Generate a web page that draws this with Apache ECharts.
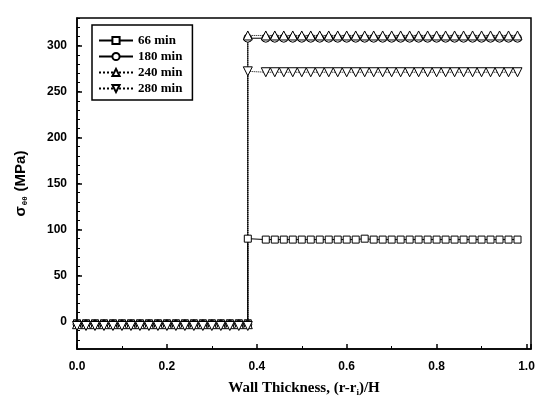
<!DOCTYPE html>
<html>
<head>
<meta charset="utf-8">
<script src="https://cdn.jsdelivr.net/npm/echarts@6/dist/echarts.min.js"></script>
<style>
  html, body { margin: 0; padding: 0; background: #fff; }
  #chart { width: 540px; height: 404px; }
</style>
</head>
<body>
<div id="chart"></div>
<script>
// x positions (wall thickness) of the markers, inner part and outer part
const xLow = [0.00, 0.02, 0.04, 0.06, 0.08, 0.10, 0.12, 0.14, 0.16, 0.18,
              0.20, 0.22, 0.24, 0.26, 0.28, 0.30, 0.32, 0.34, 0.36, 0.38]
const xHigh = [0.38, 0.42, 0.44, 0.46, 0.48, 0.50, 0.52, 0.54, 0.56, 0.58,
               0.60, 0.62, 0.64, 0.66, 0.68, 0.70, 0.72, 0.74, 0.76, 0.78,
               0.80, 0.82, 0.84, 0.86, 0.88, 0.90, 0.92, 0.94, 0.96, 0.98]

// y tick labels
const yTicks = [0, 50, 100, 150, 200, 250, 300]

// stress values (MPa)
const s66Low  = [-2, -2, -2, -2, -2, -2, -2, -2, -2, -2, -2, -2, -2, -2, -2, -2, -2, -2, -2, -2]
const s66High = [90, 89, 89, 89, 89, 89, 89, 89, 89, 89, 89, 89, 90, 89, 89, 89, 89, 89, 89, 89,
                 89, 89, 89, 89, 89, 89, 89, 89, 89, 89]
const s180Low  = [-3, -3, -3, -3, -3, -3, -3, -3, -3, -3, -3, -3, -3, -3, -3, -3, -3, -3, -3, -3]
const s180High = [308, 308, 308, 308, 308, 308, 308, 308, 308, 308, 308, 308, 308, 308, 308, 308,
                  308, 308, 308, 308, 308, 308, 308, 308, 308, 308, 308, 308, 308, 308]
const s240Low  = [-3, -3, -3, -3, -3, -3, -3, -3, -3, -3, -3, -3, -3, -3, -3, -3, -3, -3, -3, -3]
const s240High = [311, 311, 311, 311, 311, 311, 311, 311, 311, 311, 311, 311, 311, 311, 311, 311,
                  311, 311, 311, 311, 311, 311, 311, 311, 311, 311, 311, 311, 311, 311]
const s280Low  = [-5, -5, -5, -5, -5, -5, -5, -5, -5, -5, -5, -5, -5, -5, -5, -5, -5, -5, -5, -5]
const s280High = [272, 271, 271, 271, 271, 271, 271, 271, 271, 271, 271, 271, 271, 271, 271, 271,
                  271, 271, 271, 271, 271, 271, 271, 271, 271, 271, 271, 271, 271, 271]

const seriesNames = ['66 min', '180 min', '240 min', '280 min']

const toPoints = (low, high) => {
  const pts = xLow.map((x, i) => [x, low[i]])
  return pts.concat(xHigh.map((x, i) => [x, high[i]]))
}

const makeSeries = (name, low, high, symbol, size, lineType, rotate) => ({
  name,
  type: 'line',
  data: toPoints(low, high),
  symbol,
  symbolSize: size,
  symbolRotate: rotate || 0,
  showAllSymbol: true,
  itemStyle: { color: '#fff', borderColor: '#000', borderWidth: 1 },
  lineStyle: { color: '#000', width: 1, type: lineType }
})

const black = '#000'
const sansBold = { fontFamily: 'Liberation Sans', fontWeight: 'bold', fontSize: 12, color: black }

const chart = echarts.init(document.getElementById('chart'))

chart.setOption({
  animation: false,
  grid: {
    left: 77,
    right: 9,
    top: 18,
    bottom: 55,
    show: true,
    borderColor: black,
    borderWidth: 1.5,
    backgroundColor: 'transparent'
  },
  legend: {
    left: 92,
    top: 25,
    orient: 'vertical',
    data: seriesNames,
    itemWidth: 34,
    itemHeight: 9,
    itemGap: 3,
    padding: [9, 10, 5, 6],
    borderColor: black,
    borderWidth: 1.5,
    textStyle: {
      fontFamily: 'Liberation Serif',
      fontWeight: 'bold',
      fontSize: 13,
      color: black
    }
  },
  xAxis: {
    type: 'value',
    min: 0,
    max: 1.01,
    interval: 0.2,
    name: 'Wall Thickness, (r-r{sub|i})/H',
    nameLocation: 'middle',
    nameGap: 31,
    nameTextStyle: {
      fontFamily: 'Liberation Serif',
      fontWeight: 'bold',
      fontSize: 15,
      color: black,
      rich: {
        sub: { fontFamily: 'Liberation Serif', fontWeight: 'bold', fontSize: 9, padding: [8, 0, 0, 0] }
      }
    },
    axisLine: { onZero: false, lineStyle: { color: black, width: 1.5 } },
    axisTick: { inside: true, length: 5, lineStyle: { color: black, width: 1.5 } },
    minorTick: { show: true, splitNumber: 2, length: 3, lineStyle: { color: black } },
    splitLine: { show: false },
    axisLabel: Object.assign({
      showMaxLabel: false,
      margin: 12,
      formatter: (v) => v.toFixed(1)
    }, sansBold)
  },
  yAxis: [
    {
      type: 'value',
      min: -30,
      max: 330,
      name: 'σ{sub|θθ} (MPa)',
      nameLocation: 'middle',
      nameGap: 48,
      nameTextStyle: {
        fontFamily: 'Liberation Sans',
        fontWeight: 'bold',
        fontSize: 15,
        color: black,
        rich: {
          sub: { fontFamily: 'Liberation Sans', fontWeight: 'bold', fontSize: 8, padding: [9, 1, 0, 1] }
        }
      },
      axisLine: { onZero: false, lineStyle: { color: black, width: 1.5 } },
      axisTick: { inside: true, length: 5, customValues: yTicks, lineStyle: { color: black, width: 1.5 } },
      splitLine: { show: false },
      axisLabel: Object.assign({ margin: 10, customValues: yTicks }, sansBold)
    },
    {
      // minor ticks every 10 MPa
      type: 'value',
      position: 'left',
      min: -30,
      max: 330,
      interval: 10,
      axisLine: { show: false },
      axisTick: { inside: true, length: 3, lineStyle: { color: black, width: 1 } },
      splitLine: { show: false },
      axisLabel: { show: false }
    }
  ],
  series: [
    makeSeries('66 min', s66Low, s66High, 'rect', 7, 'solid'),
    makeSeries('180 min', s180Low, s180High, 'circle', 8, 'solid'),
    makeSeries('240 min', s240Low, s240High, 'triangle', 9, 'dotted'),
    makeSeries('280 min', s280Low, s280High, 'triangle', 9, 'dotted', 180)
  ]
})
</script>
</body>
</html>
